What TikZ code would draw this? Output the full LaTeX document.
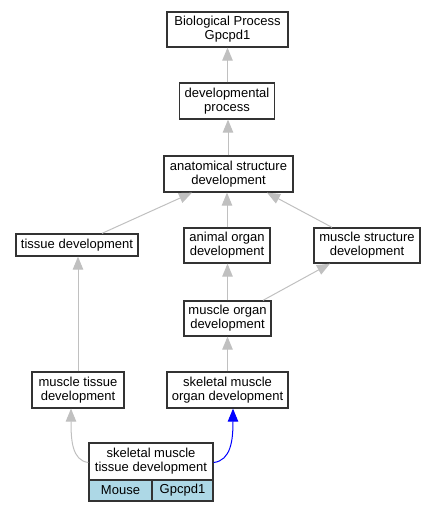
\documentclass[tikz,border=0pt]{standalone}
\usepackage{fontspec}
\setmainfont{Liberation Sans}
\usetikzlibrary{arrows.meta}
\definecolor{edgegray}{HTML}{C0C0C0}
\definecolor{cellblue}{HTML}{ADD8E6}
\tikzset{
  term/.style={draw=black!80, line width=1.3pt, fill=white, align=center, inner sep=0pt,
    font=\fontsize{13}{13.8}\selectfont},
  cell/.style={term, fill=cellblue},
  isa/.style={draw=edgegray, line width=1pt, -{Triangle[length=13pt,width=10.5pt]}},
  blueisa/.style={draw=blue, line width=1pt, -{Triangle[length=13pt,width=10.5pt]}},
}
\begin{document}
\begin{tikzpicture}[x=1pt,y=-1pt]
\useasboundingbox (0,0) rectangle (437,512);
\node[term, minimum width=121pt, minimum height=35pt] (bp) at (227.5,29.5) {Biological Process\\Gpcpd1};
\node[term, minimum width=95pt, minimum height=36pt] (dp) at (227,101) {developmental\\process};
\node[term, minimum width=129pt, minimum height=36pt] (asd) at (228.5,174) {anatomical structure\\development};
\node[term, minimum width=122pt, minimum height=22pt] (td) at (77,245) {tissue development};
\node[term, minimum width=86pt, minimum height=35pt] (aod) at (227,245.5) {animal organ\\development};
\node[term, minimum width=106pt, minimum height=35pt] (msd) at (367,245.5) {muscle structure\\development};
\node[term, minimum width=87pt, minimum height=35pt] (mod) at (227.5,318.5) {muscle organ\\development};
\node[term, minimum width=92pt, minimum height=36pt] (mtd) at (78,390) {muscle tissue\\development};
\node[term, minimum width=121pt, minimum height=36pt] (smod) at (227.5,390) {skeletal muscle\\organ development};
\node[term, minimum width=124pt, minimum height=37pt] (smtd) at (151,461.5) {skeletal muscle\\tissue development};
\node[cell, minimum width=63pt, minimum height=21pt] (mouse) at (120.5,490.5) {Mouse};
\node[cell, minimum width=61pt, minimum height=21pt] (gene) at (182.5,490.5) {Gpcpd1};

\draw[isa] ([xshift=0.5pt]dp.north) -- ([xshift=0.5pt]dp.north |- bp.south);
\draw[isa] ([xshift=-0.5pt]asd.north) -- ([xshift=-0.5pt]asd.north |- dp.south);
\draw[isa] ([xshift=25pt]td.north) -- ([xshift=-36.5pt]asd.south);
\draw[isa] (aod.north) -- (aod.north |- asd.south);
\draw[isa] ([xshift=-35pt]msd.north) -- ([xshift=38.5pt]asd.south);
\draw[isa] (mod.north) -- (mod.north |- aod.south);
\draw[isa] ([xshift=35.5pt]mod.north) -- ([xshift=-37pt]msd.south);
\draw[isa] (smod.north) -- (smod.north |- mod.south);
\draw[isa] (mtd.north) -- (mtd.north |- td.south);
\draw[isa] ([yshift=-1pt]smtd.west) .. controls (72,460.5) and (71,440) .. ([xshift=-7pt]mtd.south);
\draw[blueisa] ([yshift=-1pt]smtd.east) .. controls (231,460.5) and (233,440) .. ([xshift=5.5pt]smod.south);
\end{tikzpicture}
\end{document}
